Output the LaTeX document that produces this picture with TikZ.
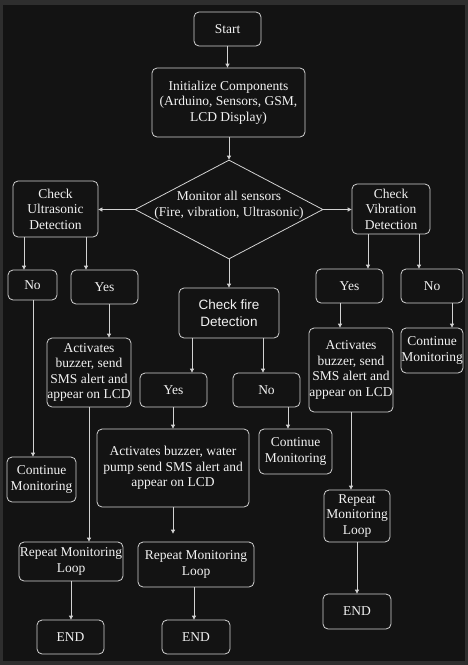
\documentclass[tikz,border=0pt]{standalone}
\usepackage{fontspec}
\setmainfont{Liberation Serif}
\newfontfamily\timesface{Liberation Serif}
\newfontfamily\arialfont{Liberation Sans}
\usetikzlibrary{arrows.meta,shapes.geometric}
\definecolor{bgout}{HTML}{2E2E2E}
\definecolor{bgin}{HTML}{131313}
\definecolor{edge}{HTML}{D2D2D2}
\definecolor{txt}{HTML}{F2F2F2}
\tikzset{
  box/.style={draw=edge, line width=0.8pt, rounded corners=5pt, fill=bgin,
    text=txt, align=center, inner sep=0pt,
    font=\timesface\fontsize{13.5}{15.5}\selectfont},
  arr/.style={draw=edge, line width=0.8pt, -{Triangle[length=4pt,width=4pt]}},
  ln/.style={draw=edge, line width=0.8pt}
}
\begin{document}
\begin{tikzpicture}[x=1pt,y=-1pt]
\fill[bgout] (0,0) rectangle (468,665);
\fill[bgin] (3,5) rectangle (465,661);
\useasboundingbox (0,0) rectangle (468,665);

\node[box, minimum width=67pt, minimum height=34pt] (start) at (227.5,29) {Start};
\node[box, minimum width=153pt, minimum height=69pt] (init) at (228.5,102.5) {Initialize Components\\(Arduino, Sensors, GSM,\\LCD Display)};
\node[draw=edge, line width=0.8pt, diamond, fill=bgin, inner sep=0pt, minimum width=188pt, minimum height=99pt] (mon) at (229,209.5) {};
\node[text=txt, align=center, inner sep=0pt, font=\timesface\fontsize{13.5}{16.5}\selectfont] (montxt) at (229,205) {Monitor all sensors\\(Fire, vibration, Ultrasonic)};

\node[box, minimum width=85pt, minimum height=56pt] (ultra) at (55.5,209) {Check\\Ultrasonic\\Detection};
\node[box, minimum width=78pt, minimum height=50pt] (vib) at (391,209) {Check\\Vibration\\Detection};
\node[box, minimum width=49pt, minimum height=30pt] (noL) at (32.5,285) {No};
\node[box, minimum width=67pt, minimum height=34pt] (yesL) at (104.5,287) {Yes};
\node[box, minimum width=100pt, minimum height=50pt, font=\arialfont\fontsize{13.5}{17}\selectfont] (fire) at (229,313) {Check fire\\Detection};
\node[box, minimum width=67pt, minimum height=34pt] (yesR) at (349.5,286) {Yes};
\node[box, minimum width=62pt, minimum height=34pt] (noR) at (432,286) {No};

\node[box, minimum width=84pt, minimum height=69pt] (actL) at (89,372.5) {Activates\\buzzer, send\\SMS alert and\\appear on LCD};
\node[box, minimum width=69pt, minimum height=45pt] (contL) at (41.5,479.5) {Continue\\Monitoring};
\node[box, minimum width=104pt, minimum height=39pt] (repL) at (71,561.5) {Repeat Monitoring\\Loop};
\node[box, minimum width=67pt, minimum height=34pt] (endL) at (70.5,637) {END};

\node[box, minimum width=67pt, minimum height=34pt] (yesF) at (173.5,390) {Yes};
\node[box, minimum width=67pt, minimum height=34pt] (noF) at (266.5,390) {No};
\node[box, minimum width=152pt, minimum height=78pt] (actF) at (173,468) {Activates buzzer, water\\pump send SMS alert and\\appear on LCD};
\node[box, minimum width=73pt, minimum height=45pt] (contF) at (295.5,451.5) {Continue\\Monitoring};
\node[box, minimum width=116pt, minimum height=45pt] (repF) at (196,564.5) {Repeat Monitoring\\Loop};
\node[box, minimum width=68pt, minimum height=34pt] (endF) at (196,637) {END};

\node[box, minimum width=84pt, minimum height=84pt] (actR) at (351,370) {Activates\\buzzer, send\\SMS alert and\\appear on LCD};
\node[box, minimum width=62pt, minimum height=45pt] (contR) at (432,350.5) {Continue\\Monitoring};
\node[box, minimum width=66pt, minimum height=52pt] (repR) at (357,516) {Repeat\\Monitoring\\Loop};
\node[box, minimum width=68pt, minimum height=35pt] (endR) at (357,611.5) {END};

% connectors
\draw[arr] (start.south) -- (start.south |- init.north);
\draw[arr] (mon.north |- init.south) -- (mon.north);
\draw[arr] (mon.west) -- (ultra.east |- mon.west);
\draw[arr] (mon.east) -- (vib.west |- mon.east);
\draw[arr] (mon.south) -- (mon.south |- fire.north);

\draw[arr] (ultra.south -| 24,0) -- (noL.north -| 24,0);
\draw[arr] (ultra.south -| 86,0) -- (yesL.north -| 86,0);
\draw[arr] (vib.south -| 368,0) -- (yesR.north -| 368,0);
\draw[arr] (vib.south -| 419,0) -- (noR.north -| 419,0);

\draw[arr] (yesL.south -| 109,0) -- (actL.north -| 109,0);
\draw[arr] (noL.south -| 33,0) -- (contL.north -| 33,0);
\draw[arr] (actL.south -| 89,0) -- (repL.north -| 89,0);
\draw[arr] (repL.south -| 71,0) -- (endL.north -| 71,0);

\draw[arr] (fire.south -| 192,0) -- (yesF.north -| 192,0);
\draw[arr] (fire.south -| 263,0) -- (noF.north -| 263,0);
\draw[arr] (yesF.south -| 173,0) -- (actF.north -| 173,0);
\draw[arr] (noF.south -| 288,0) -- (contF.north -| 288,0);
\draw[arr, shorten >=8pt] (actF.south -| 173,0) -- (repF.north -| 173,0);
\draw[arr] (repF.south -| 194,0) -- (endF.north -| 194,0);

\draw[arr] (yesR.south -| 340,0) -- (actR.north -| 340,0);
\draw[arr] (noR.south -| 452,0) -- (contR.north -| 452,0);
\draw[arr] (actR.south -| 351,0) -- (repR.north -| 351,0);
\draw[arr] (repR.south -| 357,0) -- (endR.north -| 357,0);
\end{tikzpicture}
\end{document}
